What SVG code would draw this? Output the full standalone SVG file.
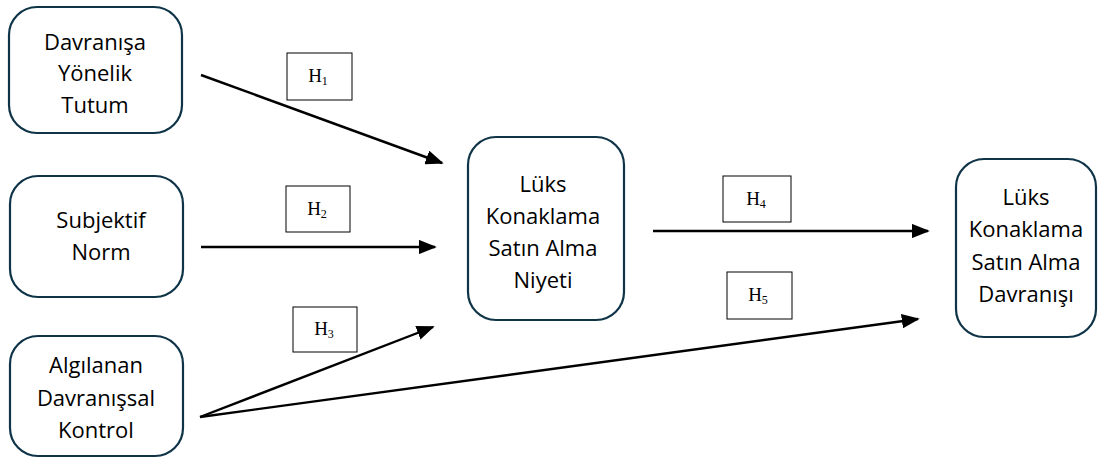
<svg xmlns="http://www.w3.org/2000/svg" width="1098" height="458" viewBox="0 0 1098 458">
<style>
.node{fill:#fff;stroke:#0f3447;stroke-width:2.2}
.t{font-family:"Open Sans","Liberation Sans",sans-serif;font-size:22px;fill:#000;text-anchor:middle}
.lb{fill:#fff;stroke:#000;stroke-width:1}
.h{font-family:"Liberation Serif",serif;font-size:19px;fill:#000;text-anchor:middle}
.s{font-size:12px}
.c{stroke:#000;stroke-width:2.4;fill:none;marker-end:url(#ah)}
</style>
<defs>
<marker id="ah" viewBox="0 0 10 8" refX="9" refY="4" markerWidth="7.5" markerHeight="6" orient="auto" markerUnits="strokeWidth">
<path d="M0,0 L10,4 L0,8 z" fill="#000"/>
</marker>
</defs>
<rect width="1098" height="458" fill="#fff"/>
<g id="n1"><rect class="node" x="9" y="7" width="173" height="126" rx="28"/>
<text class="t" x="95" y="50">Davranışa</text><text class="t" x="95" y="81">Yönelik</text><text class="t" x="95" y="113">Tutum</text></g>
<g id="n2"><rect class="node" x="10" y="176" width="173" height="121" rx="28"/>
<text class="t" x="101" y="228">Subjektif</text><text class="t" x="101" y="260">Norm</text></g>
<g id="n3"><rect class="node" x="10" y="336" width="173" height="120" rx="28"/>
<text class="t" x="96" y="373">Algılanan</text><text class="t" x="96" y="406">Davranışsal</text><text class="t" x="96" y="438">Kontrol</text></g>
<g id="n4"><rect class="node" x="468" y="137" width="156" height="183" rx="28"/>
<text class="t" x="543" y="192">Lüks</text><text class="t" x="543" y="224">Konaklama</text><text class="t" x="543" y="256">Satın Alma</text><text class="t" x="543" y="288">Niyeti</text></g>
<g id="n5"><rect class="node" x="956" y="159" width="140" height="178" rx="28"/>
<text class="t" x="1026" y="205">Lüks</text><text class="t" x="1026" y="237">Konaklama</text><text class="t" x="1026" y="270">Satın Alma</text><text class="t" x="1026" y="302">Davranışı</text></g>
<g id="connectors">
<line class="c" x1="201" y1="75" x2="442" y2="163"/>
<line class="c" x1="201" y1="247" x2="435" y2="247"/>
<line class="c" x1="200" y1="417" x2="433" y2="327"/>
<line class="c" x1="200" y1="417" x2="918" y2="319"/>
<line class="c" x1="653" y1="231" x2="928" y2="231"/>
</g>
<g id="labels">
<rect class="lb" x="287" y="53" width="65" height="47"/><text class="h" x="318" y="82">H<tspan class="s" dy="3">1</tspan></text>
<rect class="lb" x="286" y="186" width="64" height="46"/><text class="h" x="317" y="215">H<tspan class="s" dy="3">2</tspan></text>
<rect class="lb" x="293" y="307" width="64" height="45"/><text class="h" x="324" y="335">H<tspan class="s" dy="3">3</tspan></text>
<rect class="lb" x="723" y="176" width="68" height="46"/><text class="h" x="756" y="205">H<tspan class="s" dy="3">4</tspan></text>
<rect class="lb" x="727" y="272" width="65" height="47"/><text class="h" x="758" y="301">H<tspan class="s" dy="3">5</tspan></text>
</g>
</svg>
